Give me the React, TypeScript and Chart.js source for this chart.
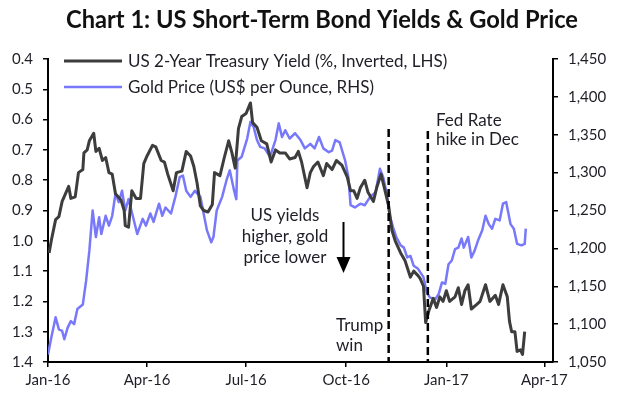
import { useEffect, useRef } from 'react';
import { Chart, registerables } from 'chart.js';

Chart.register(...registerables);

// ---------- data ----------
const TITLE = 'Chart 1: US Short-Term Bond Yields & Gold Price';
const yieldLabel = 'US 2-Year Treasury Yield (%, Inverted, LHS)';
const goldLabel = 'Gold Price (US$ per Ounce, RHS)';

// x values = days since 1 Jan 2016
const tickDays = [0, 91, 182, 274, 366, 456];
const tickLabels = ['Jan-16', 'Apr-16', 'Jul-16', 'Oct-16', 'Jan-17', 'Apr-17'];

const yieldDays = [1, 3, 7, 10, 13, 16, 19, 21, 25, 28, 32, 33, 36, 38, 42, 44, 47, 50, 53, 56, 59, 62, 67, 70, 71, 74, 77, 81, 85, 88, 91, 96, 99, 104, 107, 110, 115, 118, 123, 127, 131, 134, 137, 140, 143, 147, 151, 153, 158, 162, 166, 169, 172, 175, 178, 182, 186, 188, 192, 196, 201, 205, 209, 213, 218, 222, 227, 230, 233, 238, 241, 244, 248, 253, 256, 261, 265, 270, 275, 278, 281, 284, 287, 291, 294, 299, 302, 306, 309, 313, 316, 319, 324, 328, 333, 336, 340, 342, 345, 347, 350, 354, 357, 360, 363, 366, 369, 374, 377, 380, 383, 386, 389, 394, 397, 402, 406, 411, 414, 418, 422, 424, 426, 429, 431, 434, 436, 438];
const yieldValues = [1.04, 1.0, 0.93, 0.92, 0.87, 0.845, 0.82, 0.86, 0.855, 0.775, 0.765, 0.71, 0.7, 0.67, 0.645, 0.705, 0.695, 0.735, 0.725, 0.775, 0.78, 0.845, 0.865, 0.9, 0.95, 0.955, 0.835, 0.86, 0.86, 0.745, 0.72, 0.685, 0.69, 0.735, 0.74, 0.78, 0.835, 0.775, 0.77, 0.705, 0.72, 0.755, 0.81, 0.885, 0.9, 0.905, 0.88, 0.775, 0.785, 0.725, 0.67, 0.71, 0.76, 0.63, 0.59, 0.58, 0.545, 0.61, 0.625, 0.67, 0.68, 0.74, 0.7, 0.71, 0.71, 0.73, 0.725, 0.705, 0.74, 0.825, 0.775, 0.755, 0.74, 0.785, 0.745, 0.765, 0.735, 0.75, 0.79, 0.835, 0.835, 0.86, 0.825, 0.8, 0.84, 0.87, 0.825, 0.78, 0.825, 0.885, 0.965, 1.0, 1.04, 1.065, 1.12, 1.1, 1.115, 1.125, 1.15, 1.27, 1.23, 1.19, 1.22, 1.185, 1.2, 1.165, 1.2, 1.185, 1.155, 1.21, 1.165, 1.145, 1.225, 1.21, 1.2, 1.145, 1.2, 1.18, 1.21, 1.145, 1.185, 1.265, 1.3, 1.3, 1.365, 1.36, 1.375, 1.3];

const goldDays = [0, 3, 7, 10, 13, 15, 18, 21, 24, 27, 32, 35, 38, 41, 44, 47, 49, 53, 56, 59, 62, 65, 68, 71, 74, 77, 82, 87, 90, 94, 97, 102, 105, 108, 113, 117, 121, 124, 127, 131, 135, 140, 143, 146, 150, 152, 155, 160, 164, 167, 171, 173, 174, 178, 183, 186, 189, 192, 195, 199, 204, 209, 212, 215, 218, 222, 227, 232, 236, 241, 245, 249, 253, 258, 261, 264, 268, 273, 276, 278, 282, 287, 291, 296, 301, 305, 308, 311, 314, 317, 320, 324, 327, 330, 333, 336, 340, 345, 348, 351, 356, 359, 362, 365, 368, 371, 374, 377, 380, 382, 386, 389, 392, 395, 399, 402, 405, 408, 411, 415, 418, 421, 425, 428, 431, 435, 438, 439];
const goldValues = [1060, 1082, 1109, 1093, 1091, 1080, 1095, 1104, 1100, 1120, 1126, 1157, 1197, 1250, 1215, 1241, 1219, 1243, 1230, 1243, 1272, 1261, 1276, 1250, 1265, 1248, 1219, 1239, 1230, 1246, 1235, 1259, 1243, 1254, 1246, 1268, 1294, 1296, 1276, 1268, 1276, 1268, 1246, 1224, 1208, 1215, 1250, 1268, 1290, 1303, 1276, 1265, 1316, 1321, 1345, 1367, 1360, 1343, 1334, 1332, 1321, 1343, 1365, 1347, 1356, 1345, 1352, 1343, 1332, 1338, 1332, 1347, 1332, 1327, 1329, 1343, 1340, 1316, 1294, 1257, 1254, 1259, 1257, 1268, 1274, 1305, 1294, 1274, 1243, 1228, 1215, 1204, 1201, 1188, 1190, 1177, 1173, 1162, 1142, 1135, 1133, 1140, 1155, 1153, 1179, 1184, 1199, 1201, 1213, 1201, 1215, 1188, 1197, 1210, 1224, 1243, 1232, 1226, 1239, 1237, 1259, 1261, 1232, 1226, 1206, 1204, 1206, 1226];

const eventDays = [313, 349]; // Trump win (9 Nov 16), Fed hike (15 Dec 16)

// ---------- style ----------
const FONT = 'Lato, "Open Sans", sans-serif';
const TEXT = '#1e1e26';
const BLACK = '#3d3d3d';
const BLUE = '#7878fa';

const overlay = {
  id: 'overlay',
  afterDraw(chart: any) {
    const ctx = chart.ctx as CanvasRenderingContext2D;
    const xs = chart.scales.x;
    const area = chart.chartArea;
    ctx.save();
    // title
    ctx.fillStyle = '#111';
    ctx.font = `bold 25px ${FONT}`;
    ctx.textAlign = 'center';
    ctx.textBaseline = 'alphabetic';
    ctx.fillText(TITLE, 322, 28, 512);

    // legend
    ctx.font = `17px ${FONT}`;
    ctx.textAlign = 'left';
    const rows = [
      { label: yieldLabel, color: BLACK, w: 3, y: 61, maxW: 335 },
      { label: goldLabel, color: BLUE, w: 2.5, y: 87, maxW: 255 },
    ];
    rows.forEach((r) => {
      ctx.strokeStyle = r.color;
      ctx.lineWidth = r.w;
      ctx.beginPath();
      ctx.moveTo(64, r.y);
      ctx.lineTo(122, r.y);
      ctx.stroke();
      ctx.fillStyle = TEXT;
      ctx.fillText(r.label, 128, r.y + 6, r.maxW);
    });

    // dashed event lines
    ctx.strokeStyle = '#000';
    ctx.lineWidth = 2.5;
    ctx.setLineDash([8, 4]);
    const tops = [129, 131];
    eventDays.forEach((d, i) => {
      const px = xs.getPixelForValue(d);
      ctx.beginPath();
      ctx.moveTo(px, tops[i]);
      ctx.lineTo(px, area.bottom);
      ctx.stroke();
    });
    ctx.setLineDash([]);

    // annotations
    ctx.fillStyle = TEXT;
    ctx.font = `17px ${FONT}`;
    ctx.textAlign = 'center';
    ['US yields', 'higher, gold', 'price lower'].forEach((t, i) => {
      ctx.fillText(t, 285, 221 + i * 21);
    });
    ctx.textAlign = 'left';
    ctx.fillText('Trump', 336, 331);
    ctx.fillText('win', 336, 351);
    ctx.fillText('Fed Rate', 436, 126);
    ctx.fillText('hike in Dec', 436, 145);

    // arrow
    ctx.strokeStyle = '#000';
    ctx.lineWidth = 2;
    ctx.beginPath();
    ctx.moveTo(343.5, 222);
    ctx.lineTo(343.5, 260);
    ctx.stroke();
    ctx.fillStyle = '#000';
    ctx.beginPath();
    ctx.moveTo(336.5, 257);
    ctx.lineTo(350.5, 257);
    ctx.lineTo(343.5, 273);
    ctx.closePath();
    ctx.fill();
    ctx.restore();
  },
};

export default function App() {
  const ref = useRef<HTMLCanvasElement>(null);
  useEffect(() => {
    document.body.style.margin = '0';
    const tickFont = { family: FONT, size: 15 };
    const chart = new Chart(ref.current!, {
      type: 'line',
      data: {
        datasets: [
          {
            label: yieldLabel,
            data: yieldDays.map((d, i) => ({ x: d, y: yieldValues[i] })),
            yAxisID: 'y',
            borderColor: BLACK,
            borderWidth: 3,
            borderJoinStyle: 'round',
            pointRadius: 0,
            tension: 0,
          },
          {
            label: goldLabel,
            data: goldDays.map((d, i) => ({ x: d, y: goldValues[i] })),
            yAxisID: 'y2',
            borderColor: BLUE,
            borderWidth: 2.5,
            borderJoinStyle: 'round',
            pointRadius: 0,
            tension: 0,
          },
        ],
      },
      options: {
        responsive: false,
        animation: false,
        layout: { padding: { top: 59, left: 0, right: 0, bottom: 0 } },
        plugins: { legend: { display: false }, title: { display: false }, tooltip: { enabled: false } },
        scales: {
          x: {
            type: 'linear',
            min: 0,
            max: 464,
            afterBuildTicks: (s: any) => {
              s.ticks = tickDays.map((v) => ({ value: v }));
            },
            afterFit: (s: any) => {
              s.height = 37;
            },
            ticks: {
              callback: (v: any) => {
                const i = tickDays.indexOf(Number(v));
                return i >= 0 ? tickLabels[i] : '';
              },
              font: tickFont,
              color: TEXT,
              padding: 4,
              maxRotation: 0,
              autoSkip: false,
            },
            grid: { drawOnChartArea: false, color: '#000', tickLength: 5, lineWidth: 1.5 },
            border: { color: '#000', width: 2 },
          },
          y: {
            position: 'left',
            reverse: true,
            min: 0.4,
            max: 1.4,
            afterFit: (s: any) => {
              s.width = 48;
            },
            ticks: {
              stepSize: 0.1,
              callback: (v: any) => Number(v).toFixed(1),
              font: tickFont,
              color: TEXT,
              padding: 10,
            },
            grid: { drawOnChartArea: false, color: '#000', tickLength: 5, lineWidth: 1.5 },
            border: { color: '#000', width: 2 },
          },
          y2: {
            position: 'right',
            min: 1050,
            max: 1450,
            afterFit: (s: any) => {
              s.width = 71;
            },
            ticks: {
              stepSize: 50,
              callback: (v: any) => Number(v).toLocaleString('en-US'),
              font: tickFont,
              color: TEXT,
              padding: 10,
            },
            grid: { drawOnChartArea: false, color: '#000', tickLength: 5, lineWidth: 1.5 },
            border: { color: '#000', width: 2 },
          },
        },
      },
      plugins: [overlay],
    });
    return () => chart.destroy();
  }, []);
  return (
    <div style={{ width: 624, height: 399 }}>
      <canvas ref={ref} width={624} height={399} />
    </div>
  );
}
